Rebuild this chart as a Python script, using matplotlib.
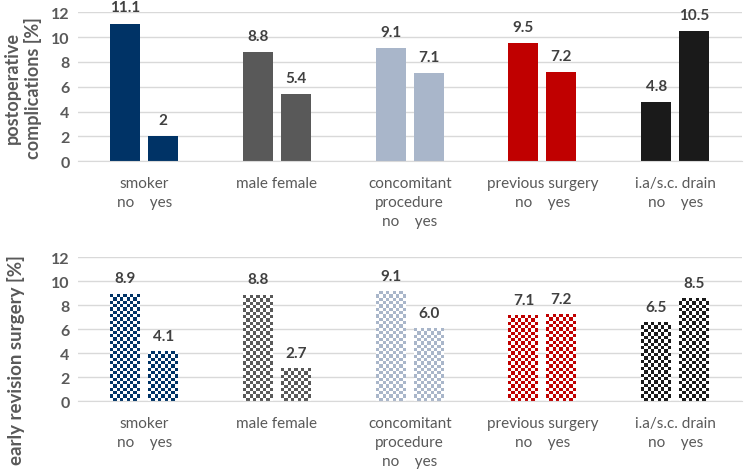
import numpy as np
import matplotlib.pyplot as plt
from matplotlib.colors import ListedColormap

plt.rcParams['font.family'] = ['Lato', 'DejaVu Sans']

# data
groups = ['smoker\nno    yes', 'male female', 'concomitant\nprocedure\nno    yes',
          'previous surgery\nno    yes', 'i.a/s.c. drain\nno    yes']
colors = ['#003366', '#595959', '#A9B6CA', '#C00000', '#1A1A1A']

comp_no = [11.1, 8.8, 9.1, 9.5, 4.8]
comp_yes = [2.0, 5.4, 7.1, 7.2, 10.5]
comp_no_lbl = ['11.1', '8.8', '9.1', '9.5', '4.8']
comp_yes_lbl = ['2', '5.4', '7.1', '7.2', '10.5']

rev_no = [8.9, 8.8, 9.1, 7.1, 6.5]
rev_yes = [4.1, 2.7, 6.0, 7.2, 8.5]
rev_no_lbl = ['8.9', '8.8', '9.1', '7.1', '6.5']
rev_yes_lbl = ['4.1', '2.7', '6.0', '7.2', '8.5']

txt = '#595959'
W = 0.226
OFF = 0.143

fig = plt.figure(figsize=(7.49, 4.77), dpi=100)
ax1 = fig.add_axes([0.104, 0.660, 0.886, 0.312])
ax2 = fig.add_axes([0.104, 0.157, 0.886, 0.302])


def setup(ax):
    ax.set_xlim(-0.5, 4.5)
    ax.set_ylim(0, 12)
    ax.set_yticks(range(0, 13, 2))
    ax.grid(axis='y', color='#D9D9D9', lw=1)
    ax.set_axisbelow(True)
    for s in ['top', 'right', 'left']:
        ax.spines[s].set_visible(False)
    ax.spines['bottom'].set_color('#D9D9D9')
    ax.tick_params(axis='both', length=0, colors=txt, labelsize=11.5)
    for t in ax.get_yticklabels():
        t.set_fontweight('bold')
    ax.set_xticks(range(5))
    ax.set_xticklabels(groups, fontsize=11, color=txt, linespacing=1.45)
    ax.tick_params(axis='x', pad=11)
    ax.tick_params(axis='y', pad=6)


def labels(ax, bars, lbls):
    for b, l in zip(bars, lbls):
        ax.annotate(l, (b.get_x() + b.get_width() / 2, b.get_height()),
                    xytext=(0, 6.5), textcoords='offset points', ha='center',
                    va='bottom', fontsize=11, fontweight='bold', color='#404040')


def checker(ax, bars, color):
    cmap = ListedColormap(['white', color])
    for b in bars:
        x0, y0 = b.get_x(), 0
        x1, y1 = x0 + b.get_width(), b.get_height()
        p0 = ax.transData.transform((x0, y0))
        p1 = ax.transData.transform((x1, y1))
        cols = 9
        sq = (p1[0] - p0[0]) / cols
        rows = max(1, int(round((p1[1] - p0[1]) / sq)))
        img = (np.add.outer(np.arange(rows), np.arange(cols)) % 2)
        ax.imshow(img, cmap=cmap, extent=(x0, x1, y0, y1), origin='lower',
                  interpolation='nearest', aspect='auto', zorder=2)
        b.set_visible(False)


x = np.arange(5)
setup(ax1)
b1 = ax1.bar(x - OFF, comp_no, W, color=colors, zorder=2)
b2 = ax1.bar(x + OFF, comp_yes, W, color=colors, zorder=2)
labels(ax1, b1, comp_no_lbl)
labels(ax1, b2, comp_yes_lbl)

setup(ax2)
b3 = ax2.bar(x - OFF, rev_no, W, color=colors, zorder=2)
b4 = ax2.bar(x + OFF, rev_yes, W, color=colors, zorder=2)
labels(ax2, b3, rev_no_lbl)
labels(ax2, b4, rev_yes_lbl)
for i in range(5):
    checker(ax2, [b3[i], b4[i]], colors[i])
ax2.set_xlim(-0.5, 4.5)
ax2.set_ylim(0, 12)

fig.text(0.031, 0.815, 'postoperative\ncomplications [%]', rotation=90,
         ha='center', va='center', fontsize=13, fontweight='bold', color=txt,
         linespacing=1.2)
fig.text(0.021, 0.245, 'early revision surgery [%]', rotation=90,
         ha='center', va='center', fontsize=13.5, fontweight='bold', color=txt)

fig.savefig('out.png', dpi=100)
